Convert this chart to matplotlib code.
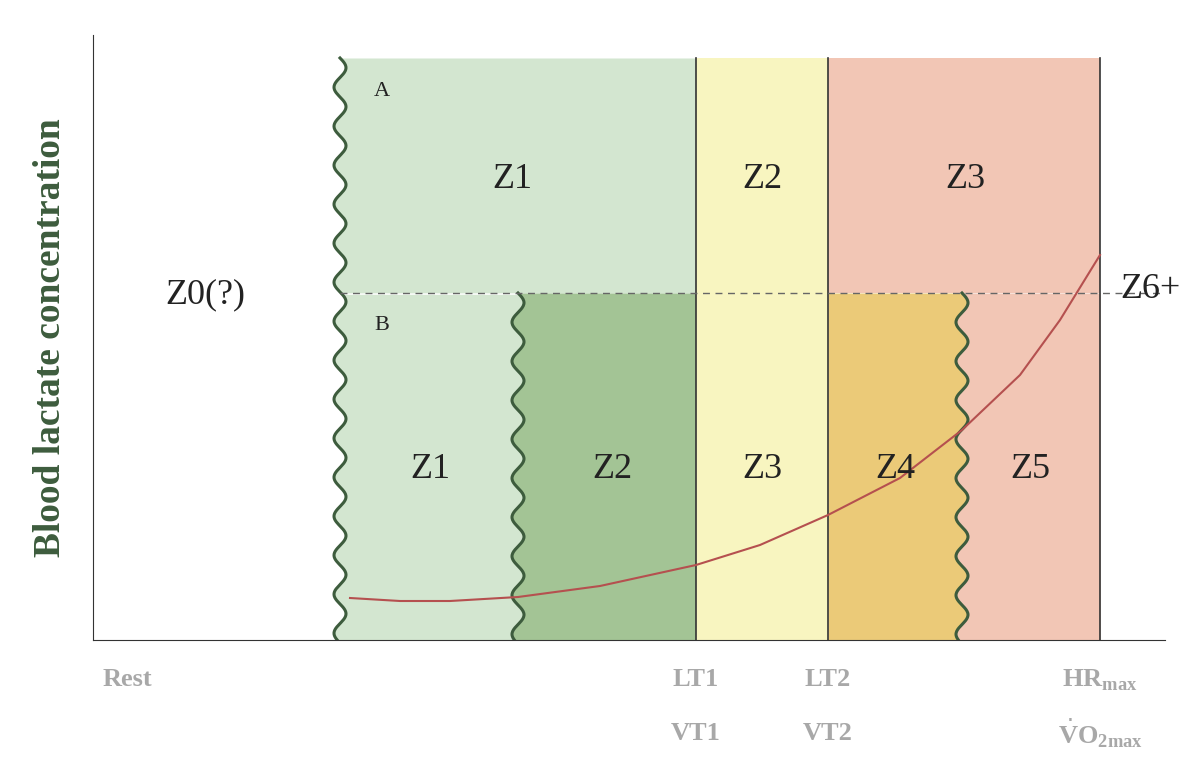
import numpy as np
import matplotlib.pyplot as plt

# boundaries (pixel-like data units)
wave_A = 340; wave_B = 518; lt1 = 696; lt2 = 828; wave_45 = 962; hrmax = 1100
top = 58; dash_y = 293; bottom = 640
curve_x = [350, 400, 450, 518, 600, 696, 760, 828, 900, 962, 1020, 1060, 1100]
curve_y = [598, 601, 601, 597, 586, 565, 545, 515, 478, 430, 375, 320, 255]
tick_labels = ["Rest", "LT1", "LT2", "HR$_{\\mathregular{max}}$"]

plt.rcParams['font.family'] = ['Liberation Serif', 'DejaVu Serif']
fig = plt.figure(figsize=(12, 7.76), dpi=100)
ax = fig.add_axes([93/1200, 136/776, (1165-93)/1200, (741-136)/776])
ax.set_xlim(93, 1165); ax.set_ylim(640, 35)

def wave(x0, y0, y1, amp=6, period=39):
    y = np.linspace(y0, y1, 400)
    return x0 + amp*np.sin(2*np.pi*(y-y0)/period), y

lg, dg, yl, sal, org = '#d3e6d0', '#a3c495', '#f8f5c0', '#f2c6b5', '#ebca78'
wc = '#3d5c3d'
# top row
wx, wy = wave(wave_A, top, bottom)
m = wy <= dash_y
ax.fill_betweenx(wy[m], wx[m], lt1, color=lg, lw=0)
ax.fill_betweenx([top, dash_y], lt1, lt2, color=yl, lw=0)
ax.fill_betweenx([top, dash_y], lt2, hrmax, color=sal, lw=0)
# bottom row
bx, by = wave(wave_B, dash_y, bottom)
m2 = wy >= dash_y
ax.fill_betweenx(wy[m2], wx[m2], np.interp(wy[m2], by, bx), color=lg, lw=0)
ax.fill_betweenx(by, bx, lt1, color=dg, lw=0)
ax.fill_betweenx([dash_y, bottom], lt1, lt2, color=yl, lw=0)
cx, cy = wave(wave_45, dash_y, bottom)
ax.fill_betweenx(cy, lt2, cx, color=org, lw=0)
ax.fill_betweenx(cy, cx, hrmax, color=sal, lw=0)
for x_, y_ in [(wx, wy), (bx, by), (cx, cy)]:
    ax.plot(x_, y_, color=wc, lw=2.2)
for xv in [lt1, lt2, hrmax]:
    ax.plot([xv, xv], [top, bottom], color='#333333', lw=1.2)
ax.plot([wave_A, hrmax+70], [dash_y, dash_y], ls=(0, (5, 4)), color='#666666', lw=1)
ax.plot(curve_x, curve_y, color='#b5504f', lw=1.5)

fs = 26
for x_, y_, t in [(512, 180, 'Z1'), (762, 180, 'Z2'), (965, 180, 'Z3'),
                  (430, 470, 'Z1'), (612, 470, 'Z2'), (762, 470, 'Z3'),
                  (895, 470, 'Z4'), (1030, 470, 'Z5'), (205, 295, 'Z0(?)'),
                  (1150, 290, 'Z6+')]:
    ax.text(x_, y_, t, fontsize=fs, ha='center', va='center', color='#222222')
ax.text(382, 92, 'A', fontsize=16, ha='center', va='center', color='#222222')
ax.text(382, 325, 'B', fontsize=16, ha='center', va='center', color='#222222')

for s in ['top', 'right']:
    ax.spines[s].set_visible(False)
ax.spines['left'].set_color('#333333'); ax.spines['bottom'].set_color('#333333')
ax.set_xticks([]); ax.set_yticks([])
ax.set_ylabel('Blood lactate concentration', fontsize=27, fontweight='bold',
              color='#3d5c3d', labelpad=18)
gc = '#a8a8a8'
for x_, t in zip([93, lt1, lt2, hrmax], tick_labels):
    ax.text(x_ if t != 'Rest' else 127, 680, t, fontsize=19, fontweight='bold',
            color=gc, ha='center', va='center')
for x_, t in zip([lt1, lt2, hrmax], ["VT1", "VT2", "$\\dot{\\mathregular{V}}$O$_{\\mathregular{2max}}$"]):
    ax.text(x_, 733, t, fontsize=19, fontweight='bold', color=gc, ha='center', va='center')
for t in ax.texts[-7:]:
    t.set_clip_on(False)
fig.savefig('out.png', dpi=100)
